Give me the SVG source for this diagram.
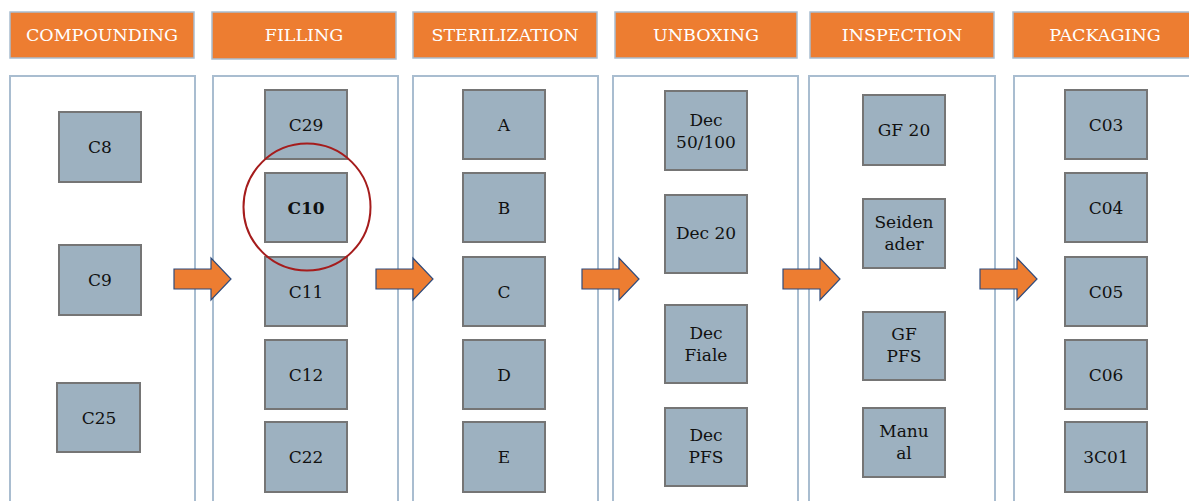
<svg xmlns="http://www.w3.org/2000/svg" width="1189" height="501" viewBox="0 0 1189 501">
<style>
.hdr{fill:#ed7d31;stroke:#a9bdd0;stroke-width:1.5}
.hdrt{fill:#ffffff;font-family:'DejaVu Serif',serif;font-size:17.5px;text-anchor:middle}
.panel{fill:#ffffff;stroke:#a9bdd0;stroke-width:2}
.node rect{fill:#9db1c0;stroke:#757575;stroke-width:2}
.node text{fill:#111;font-family:'DejaVu Serif',serif;font-size:17px;text-anchor:middle}
.arrow{fill:#ed7d31;stroke:#2f4b7c;stroke-width:1.2}
</style>
<rect width="1189" height="501" fill="#ffffff"/>
<g id="headers">
<rect class="hdr" x="10" y="12" width="184" height="46"/><text class="hdrt" x="102" y="41">COMPOUNDING</text>
<rect class="hdr" x="212" y="12" width="184" height="47"/><text class="hdrt" x="304" y="41">FILLING</text>
<rect class="hdr" x="413" y="12" width="184" height="46"/><text class="hdrt" x="505" y="41">STERILIZATION</text>
<rect class="hdr" x="615" y="12" width="182" height="46"/><text class="hdrt" x="706" y="41">UNBOXING</text>
<rect class="hdr" x="810" y="12" width="184" height="46"/><text class="hdrt" x="902" y="41">INSPECTION</text>
<rect class="hdr" x="1013" y="12" width="184" height="46"/><text class="hdrt" x="1105" y="41">PACKAGING</text>
</g>
<g id="panels">
<rect class="panel" x="10" y="76" width="185" height="440"/>
<rect class="panel" x="213" y="76" width="185" height="440"/>
<rect class="panel" x="413" y="76" width="185" height="440"/>
<rect class="panel" x="613" y="76" width="185" height="440"/>
<rect class="panel" x="809" y="76" width="186" height="440"/>
<rect class="panel" x="1014" y="76" width="190" height="440"/>
</g>
<g id="nodes">
<g id="c8" class="node"><rect x="59" y="112" width="82" height="70"/><text x="100" y="153">C8</text></g>
<g id="c9" class="node"><rect x="59" y="245" width="82" height="70"/><text x="100" y="286">C9</text></g>
<g id="c25" class="node"><rect x="57" y="383" width="83" height="69"/><text x="99" y="424">C25</text></g>

<g id="c29" class="node"><rect x="265" y="90" width="82" height="69"/><text x="306" y="131">C29</text></g>
<g id="c10" class="node"><rect x="265" y="173" width="82" height="69"/><text x="306" y="214" font-weight="bold">C10</text></g>
<g id="c11" class="node"><rect x="265" y="257" width="82" height="69"/><text x="306" y="298">C11</text></g>
<g id="c12" class="node"><rect x="265" y="340" width="82" height="69"/><text x="306" y="381">C12</text></g>
<g id="c22" class="node"><rect x="265" y="422" width="82" height="70"/><text x="306" y="463">C22</text></g>

<g id="a" class="node"><rect x="463" y="90" width="82" height="69"/><text x="504" y="131">A</text></g>
<g id="b" class="node"><rect x="463" y="173" width="82" height="69"/><text x="504" y="214">B</text></g>
<g id="c" class="node"><rect x="463" y="257" width="82" height="69"/><text x="504" y="298">C</text></g>
<g id="d" class="node"><rect x="463" y="340" width="82" height="69"/><text x="504" y="381">D</text></g>
<g id="e" class="node"><rect x="463" y="422" width="82" height="70"/><text x="504" y="463">E</text></g>

<g id="dec50" class="node"><rect x="665" y="91" width="82" height="79"/><text x="706" y="126">Dec</text><text x="706" y="148">50/100</text></g>
<g id="dec20" class="node"><rect x="665" y="195" width="82" height="78"/><text x="706" y="239">Dec 20</text></g>
<g id="decfiale" class="node"><rect x="665" y="305" width="82" height="78"/><text x="706" y="339">Dec</text><text x="706" y="361">Fiale</text></g>
<g id="decpfs" class="node"><rect x="665" y="408" width="82" height="78"/><text x="706" y="441">Dec</text><text x="706" y="463">PFS</text></g>

<g id="gf20" class="node"><rect x="863" y="95" width="82" height="70"/><text x="904" y="136">GF 20</text></g>
<g id="seidenader" class="node"><rect x="863" y="199" width="82" height="69"/><text x="904" y="228">Seiden</text><text x="904" y="250">ader</text></g>
<g id="gfpfs" class="node"><rect x="863" y="312" width="82" height="68"/><text x="904" y="340">GF</text><text x="904" y="362">PFS</text></g>
<g id="manual" class="node"><rect x="863" y="408" width="82" height="69"/><text x="904" y="437">Manu</text><text x="904" y="459">al</text></g>

<g id="c03" class="node"><rect x="1065" y="90" width="82" height="69"/><text x="1106" y="131">C03</text></g>
<g id="c04" class="node"><rect x="1065" y="173" width="82" height="69"/><text x="1106" y="214">C04</text></g>
<g id="c05" class="node"><rect x="1065" y="257" width="82" height="69"/><text x="1106" y="298">C05</text></g>
<g id="c06" class="node"><rect x="1065" y="340" width="82" height="69"/><text x="1106" y="381">C06</text></g>
<g id="c3c01" class="node"><rect x="1065" y="422" width="82" height="70"/><text x="1106" y="463">3C01</text></g>
</g>
<g id="highlight">
<circle cx="307" cy="207" r="63.5" fill="none" stroke="#a51c1c" stroke-width="2"/>
</g>
<g id="connectors">
<path class="arrow" d="M174,269 H211 V258 L231,279 L211,300 V289 H174 Z"/>
<path class="arrow" d="M376,269 H413 V258 L433,279 L413,300 V289 H376 Z"/>
<path class="arrow" d="M582,269 H619 V258 L639,279 L619,300 V289 H582 Z"/>
<path class="arrow" d="M783,269 H820 V258 L840,279 L820,300 V289 H783 Z"/>
<path class="arrow" d="M980,269 H1017 V258 L1037,279 L1017,300 V289 H980 Z"/>
</g>
</svg>
